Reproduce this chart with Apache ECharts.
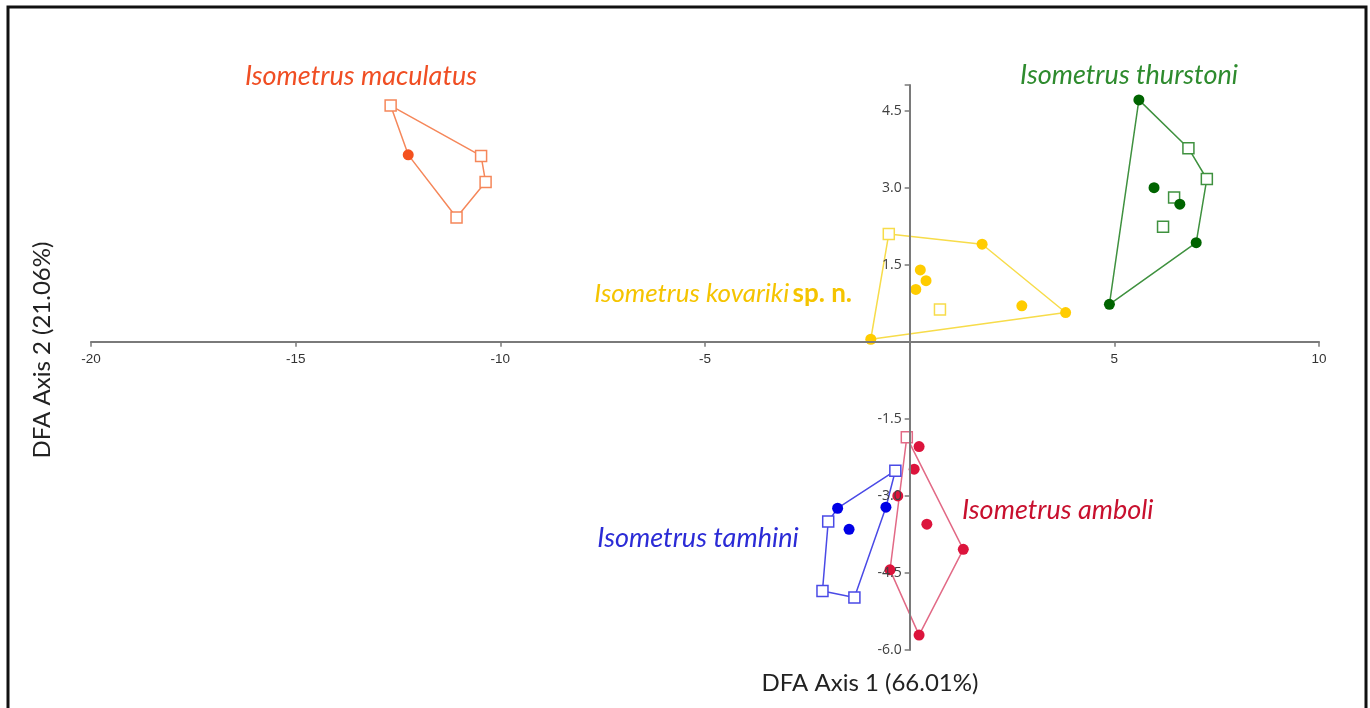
<!DOCTYPE html>
<html>
<head>
<meta charset="utf-8">
<title>DFA Isometrus</title>
<script src="https://cdn.jsdelivr.net/npm/echarts@6/dist/echarts.min.js"></script>
<style>
  html, body { margin: 0; padding: 0; background: #fff; }
  #chart { width: 1370px; height: 708px; }
</style>
</head>
<body>
<div id="chart"></div>
<script type="text/javascript">

// tick labels shown on the axes (0 is left out in the original)
var xTickLabels = [-20, -15, -10, -5, 5, 10];
var yTickLabels = [-6, -4.5, -3, -1.5, 1.5, 3, 4.5];

// Isometrus maculatus
var maculatusSquares = [[-12.68, 4.60], [-10.47, 3.62], [-10.36, 3.11], [-11.07, 2.42]];
var maculatusCircles = [[-12.25, 3.64]];
var maculatusHull = ['s0', 's1', 's2', 's3', 'c0', 's0'];

// Isometrus thurstoni
var thurstoniSquares = [[6.81, 3.77], [7.26, 3.17], [6.46, 2.81], [6.19, 2.24]];
var thurstoniCircles = [[5.60, 4.71], [5.97, 3.00], [6.60, 2.68], [7.00, 1.93], [4.88, 0.73]];
var thurstoniHull = ['c0', 's0', 's1', 'c3', 'c4', 'c0'];

// Isometrus kovariki sp. n.
var kovarikiSquares = [[-0.51, 2.10], [0.74, 0.63]];
var kovarikiCircles = [[1.77, 1.90], [0.26, 1.40], [0.40, 1.19], [0.15, 1.02], [2.74, 0.70], [3.81, 0.57], [-0.95, 0.05]];
var kovarikiHull = ['s0', 'c0', 'c5', 'c6', 's0'];

// Isometrus tamhini
var tamhiniSquares = [[-0.35, -2.51], [-1.99, -3.50], [-2.13, -4.85], [-1.35, -4.98]];
var tamhiniCircles = [[-1.76, -3.24], [-0.58, -3.22], [-1.48, -3.65]];
var tamhiniHull = ['s0', 'c1', 's3', 's2', 's1', 'c0', 's0'];

// Isometrus amboli
var amboliSquares = [[-0.07, -1.86]];
var amboliCircles = [[0.23, -2.04], [0.11, -2.48], [-0.29, -3.00], [0.42, -3.55], [1.31, -4.04], [-0.48, -4.44], [0.23, -5.71]];
var amboliHull = ['s0', 'c4', 'c6', 'c5', 's0'];

var groups = [
    {name: 'maculatus', squares: maculatusSquares, circles: maculatusCircles, hull: maculatusHull, mark: '#F4511E', line: '#F5875A'},
    {name: 'thurstoni', squares: thurstoniSquares, circles: thurstoniCircles, hull: thurstoniHull, mark: '#006400', line: '#3F913F'},
    {name: 'kovariki', squares: kovarikiSquares, circles: kovarikiCircles, hull: kovarikiHull, mark: '#FFCC00', line: '#F7DC4A'},
    {name: 'tamhini', squares: tamhiniSquares, circles: tamhiniCircles, hull: tamhiniHull, mark: '#0000E6', line: '#4A4AE6'},
    {name: 'amboli', squares: amboliSquares, circles: amboliCircles, hull: amboliHull, mark: '#DC143C', line: '#E26A86'}
];

function hullPoints(g) {
    return g.hull.map(function (k) {
        var list = k.charAt(0) === 's' ? g.squares : g.circles;
        return list[parseInt(k.substring(1), 10)];
    });
}

var series = [];
groups.forEach(function (g) {
    series.push({
        name: g.name + ' hull',
        type: 'line',
        data: hullPoints(g),
        symbol: 'none',
        lineStyle: {color: g.line, width: 1.5},
        z: 2,
        silent: true
    });
    series.push({
        name: g.name + ' squares',
        type: 'scatter',
        data: g.squares,
        symbol: 'rect',
        symbolSize: 11,
        itemStyle: {color: '#ffffff', borderColor: g.line, borderWidth: 1.5, opacity: 1},
        z: 3
    });
    series.push({
        name: g.name + ' circles',
        type: 'scatter',
        data: g.circles,
        symbol: 'circle',
        symbolSize: 11,
        itemStyle: {color: g.mark, opacity: 1},
        z: 4
    });
});

var labelFont = 'Lato, "Open Sans", sans-serif';

// grid geometry; the axes are shifted onto the zero lines with offset
var gridLeft = 91, gridTop = 85, gridWidth = 1228, gridHeight = 565;
var xMin = -20, xMax = 10, yMin = -6, yMax = 5;
var xZeroPx = gridWidth * (0 - xMin) / (xMax - xMin);
var yZeroPx = gridHeight * (0 - yMin) / (yMax - yMin);

var chart = echarts.init(document.getElementById('chart'));

var option = {
    animation: false,
    backgroundColor: '#ffffff',
    grid: {left: gridLeft, top: gridTop, width: gridWidth, height: gridHeight},
    xAxis: {
        type: 'value',
        position: 'bottom',
        min: xMin,
        max: xMax,
        interval: 5,
        offset: -yZeroPx,
        z: 10,
        axisLine: {onZero: false, lineStyle: {color: '#7a7a7a', width: 2}},
        axisTick: {show: true, length: 5, inside: false, lineStyle: {color: '#7a7a7a', width: 1.5}},
        axisLabel: {
            color: '#333', fontSize: 13.5, fontFamily: 'Arial, sans-serif', margin: 10,
            formatter: function (v) { return xTickLabels.indexOf(v) >= 0 ? String(v) : ''; }
        },
        splitLine: {show: false}
    },
    yAxis: {
        type: 'value',
        position: 'left',
        min: yMin,
        max: yMax,
        interval: 1.5,
        offset: -xZeroPx,
        z: 10,
        axisLine: {onZero: false, lineStyle: {color: '#7a7a7a', width: 2}},
        axisTick: {show: true, length: 5, lineStyle: {color: '#7a7a7a', width: 1.5}},
        axisLabel: {
            color: '#404040', fontSize: 14, fontFamily: '"Open Sans", sans-serif', margin: 8,
            formatter: function (v) { return yTickLabels.indexOf(v) >= 0 ? v.toFixed(1) : ''; }
        },
        splitLine: {show: false}
    },
    series: series,
    graphic: [
        {type: 'rect', shape: {x: 8, y: 7, width: 1358, height: 740},
         style: {fill: 'none', stroke: '#111', lineWidth: 3}, z: 10},
        {type: 'text', x: 870, y: 683,
         style: {text: 'DFA Axis 1 (66.01%)', font: '24px ' + labelFont, fill: '#222', align: 'center', verticalAlign: 'middle'}},
        {type: 'text', x: 42, y: 350, rotation: Math.PI / 2,
         style: {text: 'DFA Axis 2 (21.06%)', font: '24px ' + labelFont, fill: '#222', align: 'center', verticalAlign: 'middle'}},
        {type: 'text', x: 361, y: 76,
         style: {text: 'Isometrus maculatus', font: 'italic 27px ' + labelFont, fill: '#F04E23', align: 'center', verticalAlign: 'middle'}},
        {type: 'text', x: 1129, y: 75,
         style: {text: 'Isometrus thurstoni', font: 'italic 27px ' + labelFont, fill: '#2E8B2E', align: 'center', verticalAlign: 'middle'}},
        {type: 'text', x: 852, y: 294,
         style: {
             text: '{i|Isometrus kovariki} {b|sp. n.}',
             align: 'right', verticalAlign: 'middle',
             rich: {
                 i: {font: 'italic 26px ' + labelFont, fill: '#F5C400', color: '#F5C400'},
                 b: {font: 'bold 26px ' + labelFont, fill: '#F5C400', color: '#F5C400'}
             }
         }},
        {type: 'text', x: 698, y: 538,
         style: {text: 'Isometrus tamhini', font: 'italic 27px ' + labelFont, fill: '#2B2BD6', align: 'center', verticalAlign: 'middle'}},
        {type: 'text', x: 962, y: 510,
         style: {text: 'Isometrus amboli', font: 'italic 27px ' + labelFont, fill: '#C8102E', align: 'left', verticalAlign: 'middle'}}
    ]
};

chart.setOption(option);

</script>
</body>
</html>
